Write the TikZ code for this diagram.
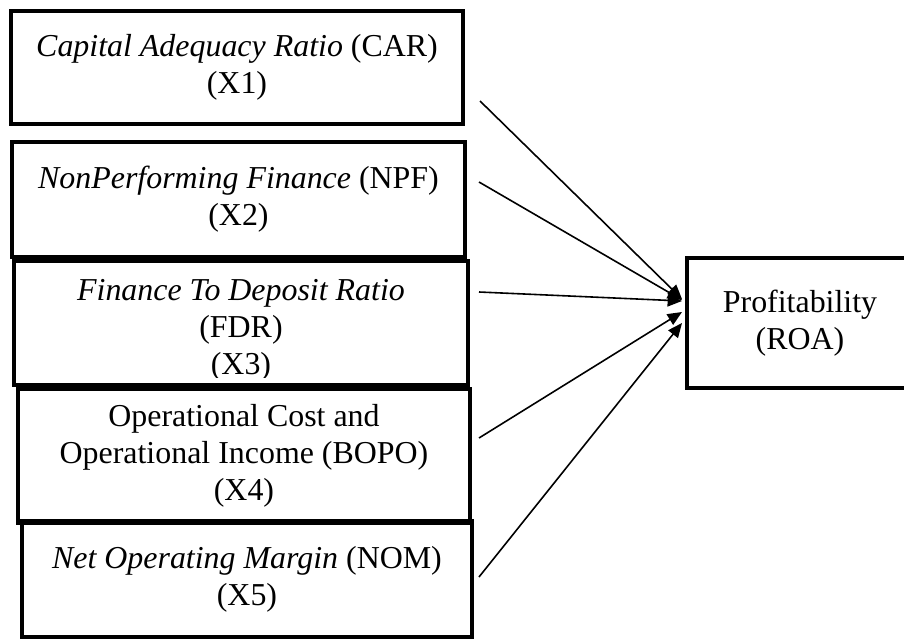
\documentclass[tikz,border=0pt]{standalone}
\usepackage{fontspec}
\setmainfont{Liberation Serif}
\usetikzlibrary{arrows.meta,calc}
\tikzset{
  varbox/.style={
    draw,
    line width=1.5pt,
    inner sep=0pt,
    align=center,
    font=\fontsize{12pt}{13.9pt}\selectfont
  },
  boxtext/.style={
    inner sep=0pt,
    align=center,
    font=\fontsize{12pt}{13.9pt}\selectfont
  },
  effect/.style={
    line width=0.6pt,
    -{Triangle[length=5.4pt,width=4.6pt]}
  },
}

\begin{document}
\begin{tikzpicture}[x=0.376pt,y=-0.376pt]
                \clip (0,0) rectangle (904,639);

                \node[varbox, minimum width=452*0.376pt, minimum height=113*0.376pt] (car) at (237,67.5) {\textit{Capital Adequacy Ratio} (CAR)\\(X1)};
                \node[varbox, minimum width=453*0.376pt, minimum height=115*0.376pt] (npf) at (238.5,199.5) {\textit{NonPerforming Finance} (NPF)\\(X2)};
                \node[varbox, minimum width=454*0.376pt, minimum height=124*0.376pt] (fdr) at (241,323) {};
                \node[varbox, minimum width=452*0.376pt, minimum height=134*0.376pt] (bopo) at (244,456) {Operational Cost and\\Operational Income (BOPO)\\(X4)};
                \node[varbox, minimum width=450*0.376pt, minimum height=116*0.376pt] (nom) at (247,579) {\textit{Net Operating Margin} (NOM)\\(X5)};

                % text of X3 runs past the bottom of its box
                \begin{scope}
                \clip (16,263) rectangle (466,377);
                \node[boxtext, anchor=north] (fdrtext) at (241,279) {\textit{Finance To Deposit Ratio}\\(FDR)\\(X3)};
                \end{scope}

                \node[varbox, minimum width=226*0.376pt, minimum height=130*0.376pt] (roa) at (800,323) {Profitability\\(ROA)};

                \coordinate (carout) at (480,101);
                \coordinate (npfout) at (479,182);
                \coordinate (fdrout) at (479,292);
                \coordinate (bopoout) at (479,438);
                \coordinate (nomout) at (479,577);

                \draw[effect] (carout) -- ($(roa.west)+(-3,-24)$);
                \draw[effect] (npfout) -- ($(roa.west)+(-3,-23)$);
                \draw[effect] (fdrout) -- ($(roa.west)+(-3,-22)$);
                \draw[effect] (bopoout) -- ($(roa.west)+(-3,-11)$);
                \draw[effect] (nomout) -- ($(roa.west)+(-3,0)$);
\end{tikzpicture}
\end{document}
